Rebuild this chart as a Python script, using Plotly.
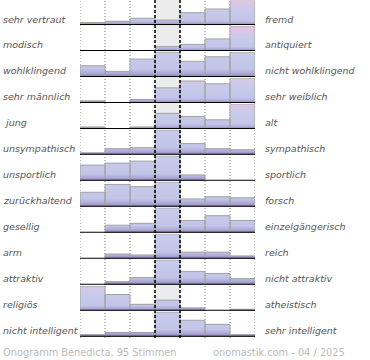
import plotly.graph_objects as go

left_labels = ["sehr vertraut", "modisch", "wohlklingend", "sehr männlich", " jung",
               "unsympathisch", "unsportlich", "zurückhaltend", "gesellig", "arm",
               "attraktiv", "religiös", "nicht intelligent"]
right_labels = ["fremd", "antiquiert", "nicht wohlklingend", "sehr weiblich", "alt",
                "sympathisch", "sportlich", "forsch", "einzelgängerisch", "reich",
                "nicht attraktiv", "atheistisch", "sehr intelligent"]

# votes per scale position (7 positions), one list per row
row_01 = [4, 6, 11, 8, 20, 26, 40]
row_02 = [0, 0, 0, 8, 12, 22, 45]
row_03 = [10, 5, 16, 22, 14, 18, 22]
row_04 = [3, 0, 5, 22, 32, 28, 36]
row_05 = [3, 0, 3, 24, 19, 14, 38]
row_06 = [2, 6, 7, 24, 11, 6, 5]
row_07 = [16, 18, 20, 25, 6, 0, 0]
row_08 = [13, 20, 18, 22, 7, 9, 8]
row_09 = [0, 8, 10, 26, 13, 18, 13]
row_10 = [0, 5, 4, 26, 7, 7, 3]
row_11 = [0, 3, 7, 24, 13, 11, 6]
row_12 = [35, 23, 9, 15, 4, 0, 2]
row_13 = [2, 4, 4, 24, 16, 12, 2]
rows = [row_01, row_02, row_03, row_04, row_05, row_06, row_07, row_08, row_09,
        row_10, row_11, row_12, row_13]

footer_left = "Onogramm Benedicta, 95 Stimmen"
footer_right = "onomastik.com - 04 / 2025"

W, H = 370, 360
X0, X1 = 80, 255
B0, STEP = 25.0, 25.97
BAND = 24.6

grad = [[0.0, "#8a7bb8"], [0.08, "#aeaad8"], [0.18, "#c2c5e7"], [0.6, "#c8cbea"],
        [0.85, "#d8c7e8"], [1.0, "#e4c4e6"]]

fig = go.Figure()
layout = dict(
    width=W, height=H, margin=dict(l=0, r=0, t=0, b=0),
    paper_bgcolor="white", plot_bgcolor="rgba(0,0,0,0)", showlegend=False,
    xaxis=dict(domain=[X0 / W, X1 / W], range=[0, 7], visible=False, fixedrange=True),
)
shapes = []
annotations = []

bottom_px = 338
shapes.append(dict(type="rect", xref="x", yref="paper", x0=3, x1=4,
                   y0=1 - bottom_px / H, y1=1, fillcolor="#ececec",
                   line=dict(width=0), layer="below"))
for gx in [0, 1, 2, 5, 6, 7]:
    shapes.append(dict(type="line", xref="x", yref="paper", x0=gx, x1=gx,
                       y0=1 - bottom_px / H, y1=1,
                       line=dict(color="#7a7a7a", width=1, dash="1px,2px"), layer="below"))

label_font = dict(family="DejaVu Sans", size=9.5, color="#555555", style="italic")

for k, vals in enumerate(rows):
    base = B0 + STEP * k
    top = base - BAND
    yname = "yaxis" if k == 0 else f"yaxis{k+1}"
    yref = "y" if k == 0 else f"y{k+1}"
    layout[yname] = dict(domain=[1 - base / H, min(1, 1 - top / H)],
                         range=[0, max(vals)], visible=False, fixedrange=True,
                         anchor="x")
    xs, ys = [], []
    for j, v in enumerate(vals):
        if v > 0:
            xs += [j, j, j + 1, j + 1, j, None]
            ys += [0, v, v, 0, 0, None]
    fig.add_trace(go.Scatter(
        x=xs, y=ys, xaxis="x", yaxis=yref, mode="lines", fill="toself",
        fillgradient=dict(type="vertical", colorscale=grad, start=0, stop=40),
        line=dict(color="#a2a2a2", width=1), hoverinfo="skip"))
    shapes.append(dict(type="line", xref="x", yref=yref, x0=0, x1=7, y0=0, y1=0,
                       line=dict(color="black", width=2), layer="above"))
    ly = 1 - (base - 6) / H
    annotations.append(dict(text=left_labels[k], x=1 / W, y=ly, xref="paper", yref="paper",
                            xanchor="left", yanchor="middle", showarrow=False,
                            font=label_font))
    annotations.append(dict(text=right_labels[k], x=263 / W, y=ly, xref="paper", yref="paper",
                            xanchor="left", yanchor="middle", showarrow=False,
                            font=label_font))

for gx in [3, 4]:
    shapes.append(dict(type="line", xref="x", yref="paper", x0=gx, x1=gx,
                       y0=1 - bottom_px / H, y1=1,
                       line=dict(color="black", width=1.5, dash="3px,2px"), layer="above"))

footer_font = dict(family="DejaVu Sans", size=9.8, color="#bbbbbb")
annotations.append(dict(text=footer_left, x=1 / W, y=1 - 352 / H, xref="paper", yref="paper",
                        xanchor="left", yanchor="middle", showarrow=False, font=footer_font))
annotations.append(dict(text=footer_right, x=347 / W, y=1 - 352 / H, xref="paper", yref="paper",
                        xanchor="right", yanchor="middle", showarrow=False, font=footer_font))

layout["shapes"] = shapes
layout["annotations"] = annotations
fig.update_layout(**layout)
fig.write_html("out.html", config={"displayModeBar": False},
               post_script="document.body.style.margin='0';")
